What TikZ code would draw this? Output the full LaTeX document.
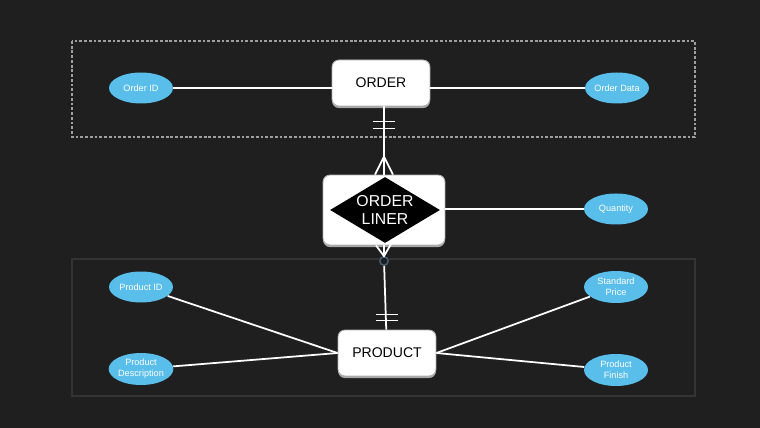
\documentclass[tikz,border=0pt]{standalone}
\usepackage{fontspec}
\setmainfont{Liberation Sans}
\usetikzlibrary{shapes.geometric,positioning,shadows}
\definecolor{bg}{RGB}{31,31,31}
\definecolor{frame}{RGB}{52,52,52}
\definecolor{attr}{RGB}{90,190,234}
\definecolor{ring}{RGB}{70,95,110}

\begin{document}
\begin{tikzpicture}[x=0.02cm, y=-0.02cm, font=\small,
  entity/.style={draw=gray!60, fill=white, rounded corners=4pt, line width=0.5pt, minimum width=1.96cm, minimum height=0.92cm, font=\fontsize{8}{9}\selectfont, drop shadow={shadow xshift=0pt, shadow yshift=-1.2pt, fill=gray!70, opacity=1}},
  attrib/.style={ellipse, fill=attr, text=white, inner sep=0pt, minimum width=1.28cm, minimum height=0.62cm, align=center, font=\fontsize{5.2}{6.4}\selectfont},
  link/.style={white, line width=1pt}]
\fill[bg] (0,0) rectangle (760,428);
\useasboundingbox (0,0) rectangle (760,428);
\draw[gray!75, dash pattern=on 1.6pt off 1.1pt, line width=0.7pt] (72,41) rectangle (695,137);
\draw[frame, line width=0.6pt] (72,259) rectangle (695,396);
\node[entity] (order) at (381,83) {ORDER};
\node[entity, minimum width=2.44cm, minimum height=1.4cm] (liner) at (384,210) {};
\node[diamond, fill=black, aspect=1.68, inner sep=0pt, minimum width=2.2cm, minimum height=1.32cm, text=white, align=center, font=\fontsize{9}{10}\selectfont] (rel) at (385,210) {ORDER\\LINER};
\node[entity] (product) at (387,353) {PRODUCT};
\node[attrib] (orderid) at (141,88) {Order ID};
\node[attrib] (orderdata) at (617,88) {Order Data};
\node[attrib] (qty) at (616,209) {Quantity};
\node[attrib] (prodid) at (141,287) {Product ID};
\node[attrib, minimum height=0.64cm] (proddesc) at (141,369) {Product\\Description};
\node[attrib, minimum height=0.64cm] (stdprice) at (616,287) {Standard\\Price};
\node[attrib, minimum height=0.64cm] (finish) at (616,370) {Product\\Finish};
\node[circle, draw=ring, fill=bg, line width=0.8pt, inner sep=0pt, minimum size=0.17cm] (opt) at (384,261) {};
\coordinate (top) at (liner.north |- order.south);
\draw[link] (orderid.east) -- (orderid.east -| order.west);
\draw[link] (orderdata.west -| order.east) -- (orderdata.west);
\draw[link] (qty.west -| liner.east) -- (qty.west);
\draw[link] (top) -- (liner.north);
\draw[link] ([shift={(-11,15)}]top) -- ++(22,0);
\draw[link] ([shift={(-11,22)}]top) -- ++(22,0);
\draw[link] ([xshift=-9*0.02cm]liner.north) -- ++(9,-18) -- ++(9,18);
\draw[link] ([xshift=-8*0.02cm]liner.south) -- (opt.north) -- ++(7,-12);
\draw[link] (liner.south) -- (opt.north);
\draw[link] (opt) -- (product);
\draw[link] ([shift={(-11,-15)}]product.north) -- ++(22,0);
\draw[link] ([shift={(-11,-9)}]product.north) -- ++(22,0);
\draw[link] (prodid) -- (product.west);
\draw[link] (proddesc) -- (product.west);
\draw[link] (stdprice) -- (product.east);
\draw[link] (finish) -- (product.east);
\end{tikzpicture}
\end{document}
